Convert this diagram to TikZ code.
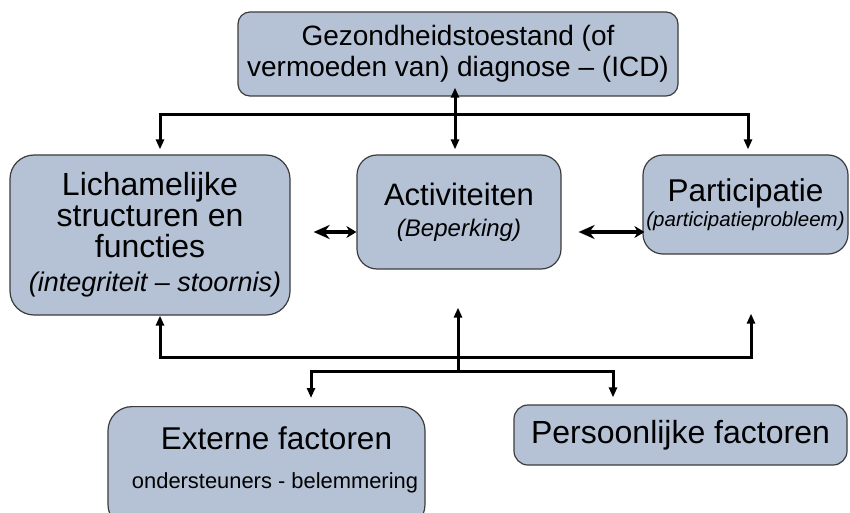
\documentclass[tikz,border=0pt]{standalone}
\usepackage{fontspec}
\setmainfont{Liberation Sans}
\usetikzlibrary{arrows.meta}
\definecolor{boxfill}{RGB}{181,194,214}
\definecolor{boxline}{RGB}{60,60,60}
\tikzset{
	icfbox/.style={draw=boxline, fill=boxfill, line width=1.2pt, rounded corners=18pt, align=center, inner sep=0pt},
	link/.style={line width=3pt, -{Triangle[length=10pt,width=8pt]}},
	twoway/.style={line width=3.5pt, {Stealth[length=16pt,width=14pt]}-{Stealth[length=10pt,width=12pt]}}
}
\begin{document}
\begin{tikzpicture}[x=1pt, y=-1pt]
	\useasboundingbox (0,0) rectangle (850,513);

	% boxes
	\node[icfbox, rounded corners=12pt, minimum width=440pt, minimum height=84pt, font=\fontsize{28}{31}\selectfont] (health) at (458,54) {Gezondheidstoestand (of\\vermoeden van) diagnose -- (ICD)};

	\node[icfbox, rounded corners=24pt, minimum width=280pt, minimum height=160pt, font=\fontsize{32}{31}\selectfont] (body) at (150,235) {Lichamelijke\\structuren en\\functies\\[3pt]{\fontsize{27}{31}\selectfont\itshape\hspace*{10pt}(integriteit -- stoornis)}};
	\node[icfbox, rounded corners=20pt, minimum width=204pt, minimum height=114pt, font=\fontsize{31}{31}\selectfont] (act) at (459,212) {Activiteiten\\{\fontsize{24}{28}\selectfont\itshape (Beperking)}};
	\node[icfbox, rounded corners=20pt, minimum width=205pt, minimum height=99pt, font=\fontsize{31.5}{25}\selectfont] (part) at (745.5,204.5) {Participatie\\{\fontsize{20.5}{25}\selectfont\itshape (participatieprobleem)}};

	\node[icfbox, rounded corners=24pt, minimum width=317pt, minimum height=122pt, anchor=north] (ext) at (266.5,406) {};
	\node[font=\fontsize{31.5}{31}\selectfont, anchor=base] (extTitle) at (276.5,449) {Externe factoren};
	\node[font=\fontsize{21.9}{26}\selectfont, anchor=base] (extNote) at (275,488) {ondersteuners - belemmering};
	\node[icfbox, rounded corners=14pt, minimum width=333pt, minimum height=60pt, font=\fontsize{32}{31}\selectfont] (pers) at (680.5,435) {Persoonlijke factoren};

	% connectors
	\coordinate (hubTop) at (455,115);
	\coordinate (hubBot) at (458,357);
	\coordinate (hubLow) at (458,371);

	\draw[link, shorten >=5pt] (hubTop) -| ([xshift=10pt]body.north);
	\draw[link, shorten >=5pt] (hubTop) -| ([xshift=2.5pt]part.north);
	\draw[line width=3pt, {Triangle[length=10pt,width=8pt]}-{Triangle[length=10pt,width=8pt]}, shorten >=5pt] ([xshift=-3pt,yshift=9pt]health.south) -- ([xshift=-4pt]act.north);

	\draw[twoway, shorten <=23pt] ([yshift=3pt]body.east) -- ([yshift=-20pt]act.west);
	\draw[twoway, line width=4.5pt, shorten <=17pt, shorten >=-2pt] ([yshift=-20pt]act.east) -- ([yshift=-27.5pt]part.west);

	\draw[link] (hubBot) -| ([xshift=10pt]body.south);
	\draw[link, shorten >=59pt] (hubBot) -| ([xshift=5.5pt]part.south);
	\draw[link, shorten >=38pt] (hubLow) -- ([xshift=-1pt]act.south);
	\draw[link, shorten >=8pt] (hubLow) -| ([xshift=44.5pt]ext.north);
	\draw[link, shorten >=7pt] (hubLow) -| ([xshift=-67.5pt]pers.north);
\end{tikzpicture}
\end{document}
